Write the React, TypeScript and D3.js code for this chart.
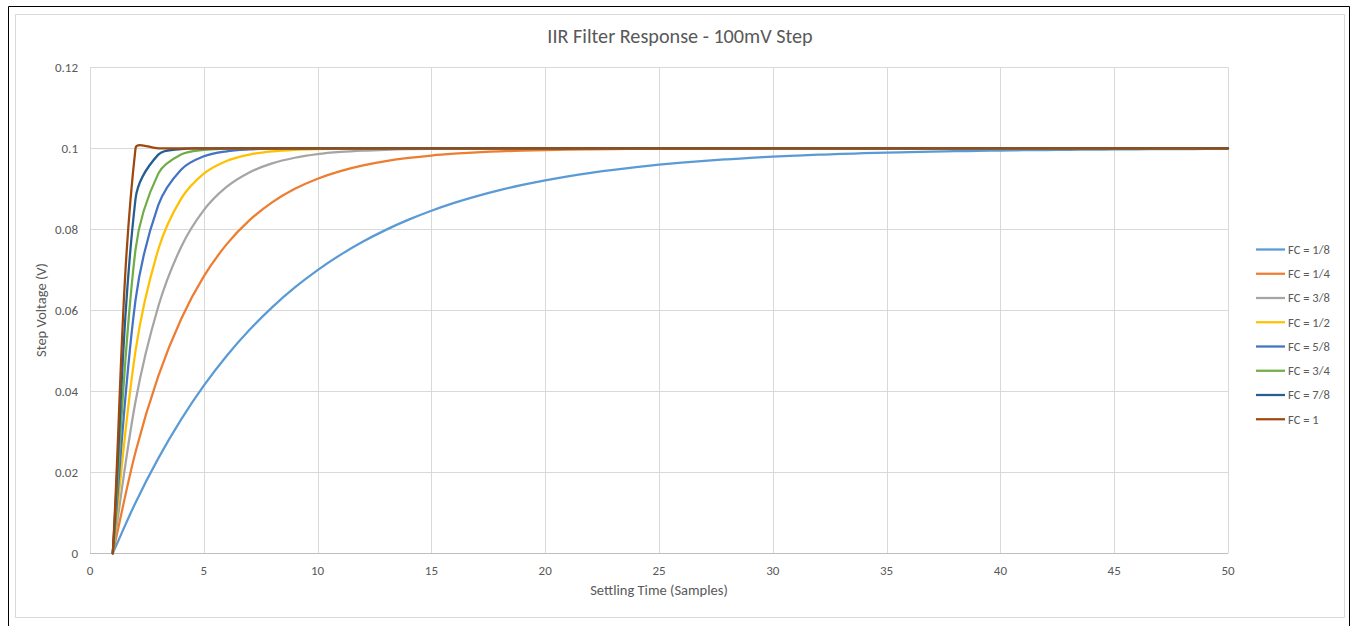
import React from "react";
import * as d3 from "d3";

const samples: number[] = Array.from({ length: 50 }, (_, i) => i + 1);

const fc18 = [0, 0.0125, 0.02344, 0.03301, 0.04138, 0.04871, 0.05512, 0.06073, 0.06564, 0.06993, 0.07369, 0.07698, 0.07986, 0.08238, 0.08458, 0.08651, 0.08819, 0.08967, 0.09096, 0.09209, 0.09308, 0.09394, 0.0947, 0.09536, 0.09594, 0.09645, 0.09689, 0.09728, 0.09762, 0.09792, 0.09818, 0.09841, 0.09861, 0.09878, 0.09893, 0.09907, 0.09918, 0.09928, 0.09937, 0.09945, 0.09952, 0.09958, 0.09963, 0.09968, 0.09972, 0.09975, 0.09978, 0.09981, 0.09984, 0.09986];
const fc14 = [0, 0.025, 0.04375, 0.05781, 0.06836, 0.07627, 0.0822, 0.08665, 0.08999, 0.09249, 0.09437, 0.09578, 0.09683, 0.09762, 0.09822, 0.09866, 0.099, 0.09925, 0.09944, 0.09958, 0.09968, 0.09976, 0.09982, 0.09987, 0.0999, 0.09992, 0.09994, 0.09996, 0.09997, 0.09998, 0.09998, 0.09999, 0.1, 0.1, 0.1, 0.1, 0.1, 0.1, 0.1, 0.1, 0.1, 0.1, 0.1, 0.1, 0.1, 0.1, 0.1, 0.1, 0.1, 0.1];
const fc38 = [0, 0.0375, 0.06094, 0.07559, 0.08474, 0.09046, 0.09404, 0.09627, 0.09767, 0.09855, 0.09909, 0.09943, 0.09964, 0.09978, 0.09986, 0.09991, 0.09995, 0.09997, 0.09998, 0.09999, 0.1, 0.1, 0.1, 0.1, 0.1, 0.1, 0.1, 0.1, 0.1, 0.1, 0.1, 0.1, 0.1, 0.1, 0.1, 0.1, 0.1, 0.1, 0.1, 0.1, 0.1, 0.1, 0.1, 0.1, 0.1, 0.1, 0.1, 0.1, 0.1, 0.1];
const fc12 = [0, 0.05, 0.075, 0.0875, 0.09375, 0.09688, 0.09844, 0.09922, 0.09961, 0.0998, 0.0999, 0.09995, 0.09998, 0.09999, 0.1, 0.1, 0.1, 0.1, 0.1, 0.1, 0.1, 0.1, 0.1, 0.1, 0.1, 0.1, 0.1, 0.1, 0.1, 0.1, 0.1, 0.1, 0.1, 0.1, 0.1, 0.1, 0.1, 0.1, 0.1, 0.1, 0.1, 0.1, 0.1, 0.1, 0.1, 0.1, 0.1, 0.1, 0.1, 0.1];
const fc58 = [0, 0.0625, 0.08594, 0.09473, 0.09802, 0.09926, 0.09972, 0.0999, 0.09996, 0.09999, 0.1, 0.1, 0.1, 0.1, 0.1, 0.1, 0.1, 0.1, 0.1, 0.1, 0.1, 0.1, 0.1, 0.1, 0.1, 0.1, 0.1, 0.1, 0.1, 0.1, 0.1, 0.1, 0.1, 0.1, 0.1, 0.1, 0.1, 0.1, 0.1, 0.1, 0.1, 0.1, 0.1, 0.1, 0.1, 0.1, 0.1, 0.1, 0.1, 0.1];
const fc34 = [0, 0.075, 0.09375, 0.09844, 0.09961, 0.0999, 0.09998, 0.1, 0.1, 0.1, 0.1, 0.1, 0.1, 0.1, 0.1, 0.1, 0.1, 0.1, 0.1, 0.1, 0.1, 0.1, 0.1, 0.1, 0.1, 0.1, 0.1, 0.1, 0.1, 0.1, 0.1, 0.1, 0.1, 0.1, 0.1, 0.1, 0.1, 0.1, 0.1, 0.1, 0.1, 0.1, 0.1, 0.1, 0.1, 0.1, 0.1, 0.1, 0.1, 0.1];
const fc78 = [0, 0.0875, 0.09844, 0.0998, 0.09998, 0.1, 0.1, 0.1, 0.1, 0.1, 0.1, 0.1, 0.1, 0.1, 0.1, 0.1, 0.1, 0.1, 0.1, 0.1, 0.1, 0.1, 0.1, 0.1, 0.1, 0.1, 0.1, 0.1, 0.1, 0.1, 0.1, 0.1, 0.1, 0.1, 0.1, 0.1, 0.1, 0.1, 0.1, 0.1, 0.1, 0.1, 0.1, 0.1, 0.1, 0.1, 0.1, 0.1, 0.1, 0.1];
const fc1 = [0, 0.1, 0.1, 0.1, 0.1, 0.1, 0.1, 0.1, 0.1, 0.1, 0.1, 0.1, 0.1, 0.1, 0.1, 0.1, 0.1, 0.1, 0.1, 0.1, 0.1, 0.1, 0.1, 0.1, 0.1, 0.1, 0.1, 0.1, 0.1, 0.1, 0.1, 0.1, 0.1, 0.1, 0.1, 0.1, 0.1, 0.1, 0.1, 0.1, 0.1, 0.1, 0.1, 0.1, 0.1, 0.1, 0.1, 0.1, 0.1, 0.1];

const seriesNames = ["FC = 1/8", "FC = 1/4", "FC = 3/8", "FC = 1/2", "FC = 5/8", "FC = 3/4", "FC = 7/8", "FC = 1"];
const seriesValues = [fc18, fc14, fc38, fc12, fc58, fc34, fc78, fc1];
const seriesColors = ["#5B9BD5", "#ED7D31", "#A5A5A5", "#FFC000", "#4472C4", "#70AD47", "#255E91", "#9E480E"];

const xTicks = [0, 5, 10, 15, 20, 25, 30, 35, 40, 45, 50];
const yTicks = [0, 0.02, 0.04, 0.06, 0.08, 0.1, 0.12];

const titleText = "IIR Filter Response - 100mV Step";
const xTitle = "Settling Time (Samples)";
const yTitle = "Step Voltage (V)";

const FONT = "Carlito, Calibri, 'Open Sans', sans-serif";

// Spreadsheet-style smoothing: Bezier segments whose tangents are weighted by chord lengths
function curveSmoothSheet(context: any) {
  let pts: [number, number][] = [];
  return {
    areaStart() {},
    areaEnd() {},
    lineStart() {
      pts = [];
    },
    point(x: number, y: number) {
      pts.push([+x, +y]);
    },
    lineEnd() {
      const n = pts.length;
      if (!n) return;
      const dist = (a: [number, number], b: [number, number]) => Math.hypot(b[0] - a[0], b[1] - a[1]);
      context.moveTo(pts[0][0], pts[0][1]);
      if (n === 1) return;
      const tan = (i: number, forward: boolean): [number, number] => {
        // returns control offset from point i toward segment (forward: i->i+1, else i->i-1)
        if (i === 0 || i === n - 1) {
          const j = i === 0 ? 1 : n - 2;
          return [(pts[j][0] - pts[i][0]) / 3, (pts[j][1] - pts[i][1]) / 3];
        }
        const dPrev = dist(pts[i - 1], pts[i]);
        const dNext = dist(pts[i], pts[i + 1]);
        const tx = pts[i + 1][0] - pts[i - 1][0];
        const ty = pts[i + 1][1] - pts[i - 1][1];
        const sum = dPrev + dNext || 1;
        const w = (forward ? dNext : dPrev) / sum / 3;
        const s = forward ? 1 : -1;
        return [s * tx * w, s * ty * w];
      };
      for (let i = 0; i < n - 1; i++) {
        const a = pts[i];
        const b = pts[i + 1];
        const t1 = tan(i, true);
        const t2 = tan(i + 1, false);
        context.bezierCurveTo(a[0] + t1[0], a[1] + t1[1], b[0] + t2[0], b[1] + t2[1], b[0], b[1]);
      }
    },
  };
}

export default function App() {
  const W = 1351;
  const H = 626;
  const x = d3.scaleLinear().domain([0, 50]).range([90, 1228]);
  const y = d3.scaleLinear().domain([0, 0.12]).range([553.3, 67.3]);
  const line = d3
    .line<number>()
    .x((_, i) => x(samples[i]))
    .y((d) => y(d))
    .curve(curveSmoothSheet as any);

  const legendX = 1256;
  const legendY0 = 249.5;
  const legendDy = 24.25;

  return (
    <svg
      width={W}
      height={H}
      style={{ position: "absolute", left: 0, top: 0, background: "#fff" }}
      fontFamily={FONT}
    >
      <rect x={0} y={0} width={W} height={H} fill="#fff" />
      {/* outer black frame */}
      <line x1={8.5} y1={6.5} x2={8.5} y2={H} stroke="#000" strokeWidth={1} />
      <line x1={8.5} y1={6.5} x2={1349.5} y2={6.5} stroke="#000" strokeWidth={1} />
      <line x1={1349.5} y1={6.5} x2={1349.5} y2={H} stroke="#000" strokeWidth={1} />
      {/* inner chart area border */}
      <rect x={15.5} y={14.5} width={1329} height={603} fill="#fff" stroke="#D9D9D9" strokeWidth={1} />

      {/* gridlines */}
      {yTicks.map((t) => (
        <line key={"gy" + t} x1={x(0)} x2={x(50)} y1={Math.round(y(t)) + 0.5} y2={Math.round(y(t)) + 0.5} stroke="#D9D9D9" strokeWidth={1} />
      ))}
      {xTicks.map((t) => (
        <line key={"gx" + t} x1={Math.round(x(t)) + 0.5} x2={Math.round(x(t)) + 0.5} y1={y(0.12)} y2={y(0)} stroke="#D9D9D9" strokeWidth={1} />
      ))}
      {/* x axis line */}
      <line x1={x(0)} x2={x(50)} y1={Math.round(y(0)) + 0.5} y2={Math.round(y(0)) + 0.5} stroke="#BFBFBF" strokeWidth={1} />

      {/* tick labels */}
      {yTicks.map((t) => (
        <text key={"ty" + t} x={78} y={y(t)} dy="0.35em" textAnchor="end" fontSize={13} fill="#595959">
          {t === 0 ? "0" : String(t)}
        </text>
      ))}
      {xTicks.map((t) => (
        <text key={"tx" + t} x={x(t)} y={575} textAnchor="middle" fontSize={13} fill="#595959">
          {t}
        </text>
      ))}

      {/* series */}
      {seriesValues.map((vals, i) => (
        <path key={"s" + i} d={line(vals) || ""} fill="none" stroke={seriesColors[i]} strokeWidth={2.25} strokeLinejoin="round" strokeLinecap="round" />
      ))}

      {/* titles */}
      <text x={680} y={43} textAnchor="middle" fontSize={20.2} fill="#595959">
        {titleText}
      </text>
      <text x={659} y={595} textAnchor="middle" fontSize={14.5} fill="#595959">
        {xTitle}
      </text>
      <text transform={`translate(46,310) rotate(-90)`} textAnchor="middle" fontSize={14.5} fill="#595959">
        {yTitle}
      </text>

      {/* legend */}
      {seriesNames.map((n, i) => (
        <g key={"l" + i} transform={`translate(${legendX},${legendY0 + i * legendDy})`}>
          <line x1={0} x2={29} y1={0} y2={0} stroke={seriesColors[i]} strokeWidth={2.25} />
          <text x={32} y={0} dy="0.35em" fontSize={12.6} fill="#595959">
            {n}
          </text>
        </g>
      ))}
    </svg>
  );
}
